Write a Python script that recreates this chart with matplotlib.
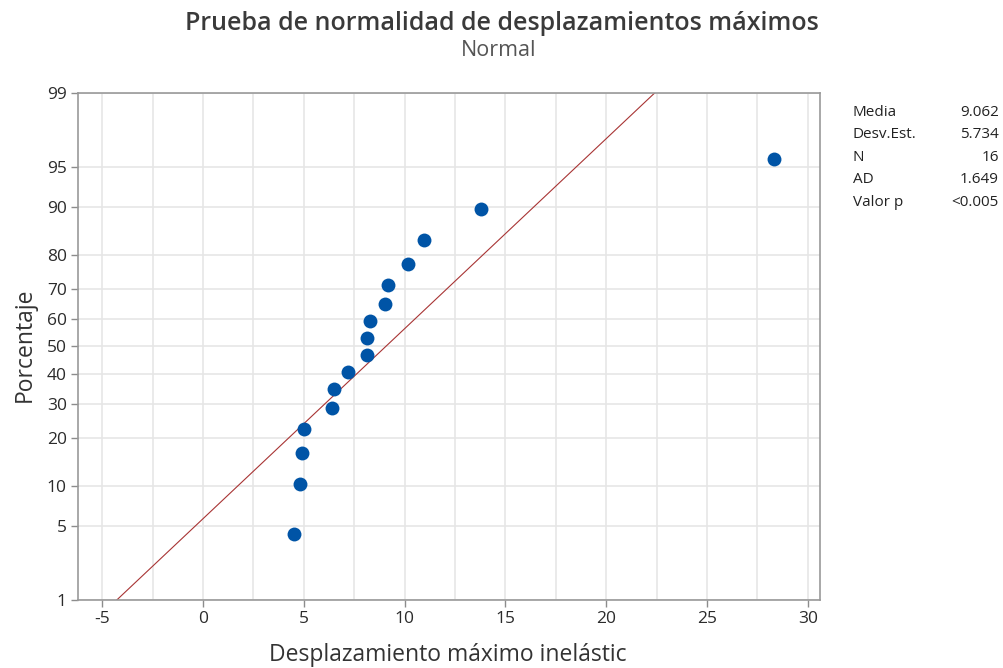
import matplotlib
matplotlib.use('Agg')
import matplotlib.pyplot as plt
import numpy as np
from statistics import NormalDist

plt.rcParams['font.family'] = ['Open Sans', 'DejaVu Sans']

# sorted sample of maximum inelastic displacements
desplazamientos = [4.50, 4.80, 4.89, 5.02, 6.41, 6.49, 7.21, 8.15,
                   8.15, 8.30, 9.03, 9.19, 10.18, 10.98, 13.80, 28.30]
media = 9.062
desv_est = 5.734
stat_names = ['Media', 'Desv.Est.', 'N', 'AD', 'Valor p']
stat_values = ['9.062', '5.734', '16', '1.649', '<0.005']
pct_ticks = [1, 5, 10, 20, 30, 40, 50, 60, 70, 80, 90, 95, 99]
x_ticks = [-5, 0, 5, 10, 15, 20, 25, 30]

nd = NormalDist()
n = len(desplazamientos)
# median-rank plotting positions on the normal probability scale
pos = [(i - 0.3) / (n + 0.4) for i in range(1, n + 1)]
z_pts = [nd.inv_cdf(p) for p in pos]
z_lo, z_hi = nd.inv_cdf(0.01), nd.inv_cdf(0.99)

fig = plt.figure(figsize=(10.04, 6.68), dpi=100)
ax = fig.add_axes([0.0777, 0.1018, 0.739, 0.759])

grid_c = '#e6e6e6'
for xv in np.arange(-7.5, 31, 2.5):
    ax.axvline(xv, color=grid_c, lw=1.2, zorder=0)
for p in pct_ticks:
    ax.axhline(nd.inv_cdf(p / 100), color=grid_c, lw=1.2, zorder=0)

zl = np.array([z_lo, z_hi])
ax.plot(media + desv_est * zl, zl, color='#a83434', lw=0.8, zorder=2)
ax.scatter(desplazamientos, z_pts, s=100, color='#0054a6', zorder=3, linewidths=0)

ax.set_xlim(-6.2, 30.6)
ax.set_ylim(z_lo, z_hi)
ax.set_xticks(x_ticks)
ax.set_xticklabels([str(v) for v in x_ticks])
ax.set_yticks([nd.inv_cdf(p / 100) for p in pct_ticks])
ax.set_yticklabels([str(p) for p in pct_ticks])
ax.tick_params(length=5, width=1, color='#8c8c8c', labelsize=12.5, labelcolor='#2b2b2b', pad=3)
for s in ax.spines.values():
    s.set_color('#999999')
    s.set_linewidth(1.2)

fig.text(448 / 1004, 1 - 655 / 668, 'Desplazamiento máximo inelástic', ha='center', va='center',
         fontsize=16.5, color='#333333')
fig.text(25 / 1004, 1 - 345 / 668, 'Porcentaje', ha='center', va='center', rotation=90,
         fontsize=16.5, color='#333333')

fig.text(0.5, 1 - 23 / 668, 'Prueba de normalidad de desplazamientos máximos', ha='center', va='center',
         fontsize=18, fontweight='semibold', color='#3a3a3a')
fig.text(0.497, 1 - 51 / 668, 'Normal', ha='center', va='center', fontsize=15.5, color='#555555')

for k, (nm, val) in enumerate(zip(stat_names, stat_values)):
    yk = 1 - (112 + 22.6 * k) / 668
    fig.text(853 / 1004, yk, nm, ha='left', va='center', fontsize=11, color='#222222')
    fig.text(999 / 1004, yk, val, ha='right', va='center', fontsize=11, color='#222222')

fig.savefig('out.png', dpi=100)
